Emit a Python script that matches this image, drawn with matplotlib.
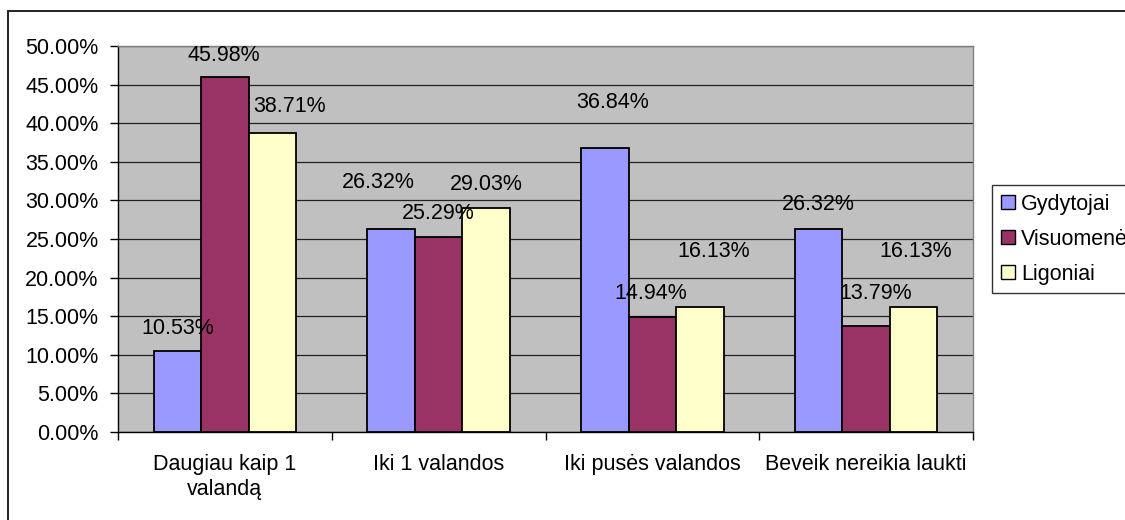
import numpy as np
import matplotlib.pyplot as plt
from matplotlib.patches import Patch, Rectangle
from matplotlib.ticker import FuncFormatter

plt.rcParams["font.family"] = ["Liberation Sans", "DejaVu Sans"]

# Data (percent)
categories = ["Daugiau kaip 1\nvalandą", "Iki 1 valandos", "Iki pusės valandos", "Beveik nereikia laukti"]
series_names = ["Gydytojai", "Visuomenė", "Ligoniai"]
gydytojai = [10.53, 26.32, 36.84, 26.32]
visuomene = [45.98, 25.29, 14.94, 13.79]
ligoniai = [38.71, 29.03, 16.13, 16.13]

colors = ["#9999FF", "#993366", "#FFFFCC"]
FS = 15.5

# label offsets (pixels) from bar top centre, mimicking the original placement
label_dx = [[0, -13, 8, 0], [-1, 0, -2, 10], [17, 0, 14, 2]]
label_dy = [[22, 46, 45, 24], [22, 23, 23, 32], [27, 23, 56, 56]]

fig = plt.figure(figsize=(11.25, 5.2), dpi=100)
ax = fig.add_axes([118 / 1125, 88 / 520, 855 / 1125, 386 / 520])
ax.set_facecolor("#C0C0C0")

# outer chart border (clipped on right and bottom as in original)
fig.patches.append(Rectangle((8 / 1125, -0.5), 2.0, 0.5 + 509 / 520,
                             transform=fig.transFigure, fill=False,
                             edgecolor="#222222", linewidth=1.4))

x = np.arange(len(categories))
width = 0.222
all_series = [gydytojai, visuomene, ligoniai]
for i, (name, vals) in enumerate(zip(series_names, all_series)):
    pos = x + (i - 1) * width
    ax.bar(pos, vals, width=width, color=colors[i], edgecolor="black",
           linewidth=1.3, zorder=3, label=name)
    for j, (p, v) in enumerate(zip(pos, vals)):
        ax.annotate(f"{v:.2f}%", (p, v), xytext=(label_dx[i][j], label_dy[i][j]),
                    textcoords="offset pixels", ha="center", va="center",
                    fontsize=FS, zorder=5)

ax.set_xlim(-0.5, len(categories) - 0.5)
ax.set_ylim(0, 50)
ax.set_yticks(np.arange(0, 50.1, 5))
ax.yaxis.set_major_formatter(FuncFormatter(lambda v, _: f"{v:.2f}%"))
ax.yaxis.grid(True, color="#222222", linewidth=0.9, zorder=1)
ax.set_axisbelow(True)

ax.set_xticks(np.arange(-0.5, len(categories)), labels=[""] * (len(categories) + 1))
ax.set_xticks(x, labels=categories, minor=True)
ax.tick_params(axis="x", which="major", direction="out", length=6, width=1, color="black")
ax.tick_params(axis="x", which="minor", length=0, pad=16, labelsize=FS)
ax.tick_params(axis="y", direction="out", length=6, width=1, pad=8, labelsize=FS)
for lbl in ax.get_xticklabels(minor=True):
    lbl.set_linespacing(1.25)

for side in ["top", "right"]:
    ax.spines[side].set_color("#808080")
    ax.spines[side].set_linewidth(1.0)
for side in ["left", "bottom"]:
    ax.spines[side].set_color("black")
    ax.spines[side].set_linewidth(1.0)

handles = [Patch(facecolor=c, edgecolor="black", linewidth=1.0) for c in colors]
leg = fig.legend(handles, series_names, loc="upper left",
                 bbox_to_anchor=(992 / 1125, (520 - 185) / 520),
                 fontsize=FS, frameon=True, fancybox=False, shadow=False,
                 handlelength=0.65, handleheight=0.65, handletextpad=0.3,
                 labelspacing=0.65, borderpad=0.4, borderaxespad=0)
leg.get_frame().set_edgecolor("black")
leg.get_frame().set_linewidth(1.0)

fig.savefig("out.png", dpi=100)
